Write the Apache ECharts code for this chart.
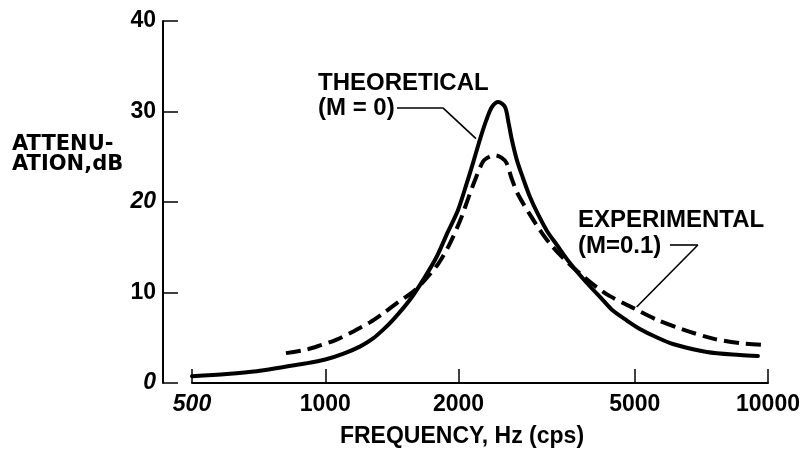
<!DOCTYPE html>
<html>
<head>
<meta charset="utf-8">
<script src="https://cdn.jsdelivr.net/npm/echarts@6/dist/echarts.min.js"></script>
<style>
html,body{margin:0;padding:0;background:#fff;}
#chart{width:808px;height:454px;}
</style>
</head>
<body>
<div id="chart"></div>
<script>
// ---- data ----
var xTicks = [500, 1000, 2000, 5000, 10000];
var yTicks = [0, 10, 20, 30, 40];
var italicLabels = ['500', '20', '0'];

var theoFreq = [500, 600, 700, 800, 900, 1000, 1100, 1200, 1280, 1352, 1424, 1553, 1664, 1785, 1892, 1994, 2079, 2156, 2235, 2313, 2380, 2459, 2546, 2593, 2640, 2710, 2796, 2900, 3023, 3168, 3336, 3569, 3899, 4237, 4463, 4800, 5136, 5600, 6098, 7274, 8639, 9490];
var theoDb   = [0.75, 1.0, 1.3, 1.75, 2.15, 2.6, 3.25, 4.05, 4.9, 5.9, 7.0, 9.2, 11.4, 13.95, 16.7, 19.1, 21.8, 24.3, 26.9, 29.1, 30.5, 31.05, 30.5, 28.8, 26.85, 24.6, 22.65, 20.55, 18.65, 16.8, 15.25, 13.26, 11.05, 9.17, 8.0, 6.9, 5.97, 5.05, 4.31, 3.43, 3.09, 2.98];

var expFreq = [815, 908, 973, 1061, 1157, 1261, 1352, 1449, 1580, 1680, 1801, 1898, 2019, 2103, 2178, 2274, 2350, 2420, 2500, 2568, 2636, 2728, 2900, 3054, 3217, 3447, 3760, 4101, 4394, 4954, 5602, 6433, 7519, 8639, 9756];
var expDb   = [3.3, 3.7, 4.15, 4.8, 5.7, 6.7, 7.7, 8.8, 10.1, 11.4, 13.2, 15.1, 18.0, 20.4, 22.4, 24.5, 25.0, 25.15, 24.9, 24.3, 22.6, 20.8, 18.6, 16.9, 15.4, 13.8, 12.1, 10.6, 9.6, 8.3, 7.0, 5.9, 4.9, 4.4, 4.2];

var theoLabel = ['THEORETICAL', '(M = 0)'];
var expLabel = ['EXPERIMENTAL', '(M=0.1)'];
var xName = 'FREQUENCY, Hz (cps)';
var yName = 'ATTENU-\nATION,dB';

// annotation anchors (data space)
var theoTextAt = [[963, 33.1], [963, 30.3]];
var theoLeader = [[1452, 30.4], [1844, 30.4], [2190, 27.0]];
var expTextAt = [[3721, 17.95], [3721, 15.1]];
var expLeader = [[6005, 15.25], [6944, 15.25], [5050, 8.4]];

// ---- chart ----
var FONT = '"Liberation Sans", Arial, Helvetica, sans-serif';
var FONT2 = '"DejaVu Sans", "Liberation Sans", sans-serif';
function pairs(xs, ys) { return xs.map(function (x, i) { return [x, ys[i]]; }); }
function segs(pts) {
  var out = [];
  for (var i = 0; i < pts.length - 1; i++) out.push([{ coord: pts[i] }, { coord: pts[i + 1] }]);
  return out;
}
function textPoints(pts, texts) {
  return pts.map(function (p, i) {
    return { coord: p, label: { formatter: texts[i] } };
  });
}
var rich = {
  n: { fontFamily: FONT, fontWeight: 'bold', fontSize: 23, color: '#000' },
  i: { fontFamily: FONT, fontWeight: 'bold', fontStyle: 'italic', fontSize: 23, color: '#000' }
};
function fmt(v) {
  var s = String(v);
  return (italicLabels.indexOf(s) >= 0 ? '{i|' : '{n|') + s + '}';
}
var annLabel = {
  show: true, position: 'right', distance: 0, color: '#000',
  fontFamily: FONT, fontWeight: 'bold', fontSize: 24
};
var leaderStyle = { color: '#000', width: 1.6, type: 'solid' };

var chart = echarts.init(document.getElementById('chart'), null, { renderer: 'canvas' });
chart.setOption({
  animation: false,
  backgroundColor: '#fff',
  grid: { left: 192, right: 40, top: 21, bottom: 71, containLabel: false, outerBoundsMode: 'none' },
  xAxis: {
    type: 'log', logBase: 10, min: 500, max: 10000,
    name: xName, nameLocation: 'middle', nameGap: 42,
    nameTextStyle: { fontFamily: FONT, fontWeight: 'bold', fontSize: 23, color: '#000', padding: [0, 36, 0, 0] },
    axisLine: { show: true, lineStyle: { color: '#000', width: 2 } },
    axisTick: { show: true, inside: true, length: 14, lineStyle: { color: '#000', width: 1.5 }, customValues: xTicks },
    axisLabel: { show: true, margin: 10, customValues: xTicks, formatter: fmt, rich: rich },
    minorTick: { show: false },
    splitLine: { show: false }
  },
  yAxis: {
    type: 'value', min: 0, max: 40, interval: 10, offset: 29,
    axisLine: { show: true, lineStyle: { color: '#000', width: 2 } },
    axisTick: { show: true, inside: true, length: 15, lineStyle: { color: '#000', width: 1.5 } },
    axisLabel: { show: true, margin: 7, formatter: fmt, rich: rich },
    splitLine: { show: false }
  },
  graphic: [{
    type: 'text', left: 12, top: 134,
    style: { text: yName, fill: '#000', font: 'bold 21px ' + FONT2, lineHeight: 20 }
  }],
  series: [
    {
      name: 'Theoretical', type: 'line', data: pairs(theoFreq, theoDb),
      showSymbol: false, smooth: 0.3,
      lineStyle: { color: '#000', width: 4, type: 'solid', cap: 'round', join: 'round' },
      markLine: { silent: true, symbol: 'none', label: { show: false }, lineStyle: leaderStyle, data: segs(theoLeader) },
      markPoint: { symbol: 'circle', symbolSize: 0, silent: true, label: annLabel, data: textPoints(theoTextAt, theoLabel) }
    },
    {
      name: 'Experimental', type: 'line', data: pairs(expFreq, expDb),
      showSymbol: false, smooth: 0.3,
      lineStyle: { color: '#000', width: 4, type: [15, 7] },
      markLine: { silent: true, symbol: 'none', label: { show: false }, lineStyle: leaderStyle, data: segs(expLeader) },
      markPoint: { symbol: 'circle', symbolSize: 0, silent: true, label: annLabel, data: textPoints(expTextAt, expLabel) }
    }
  ]
});
</script>
</body>
</html>
